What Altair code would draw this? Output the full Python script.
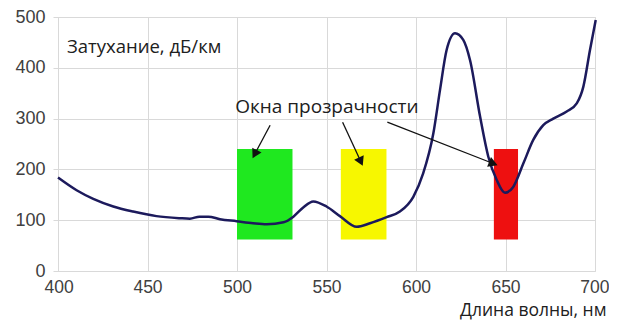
import math
import altair as alt
import pandas as pd

# ---- data ----
wavelength = [400, 410.4, 419.7, 430.9, 442, 455, 468, 473.7, 479, 484, 490.5, 499.8, 509,
              516.6, 526, 531.5, 537, 542.6, 550, 557.5, 566.9, 574.3, 583.6, 591, 598.5,
              604, 609.7, 613.4, 617.1, 621.8, 626.4, 630.2, 635.8, 640.4, 645.1, 649.7,
              654.4, 660, 665.5, 671.1, 676.7, 684.2, 689.8, 693.5, 697.2, 700.4]
attenuation = [184, 159, 142, 127, 117, 108, 104, 103, 107, 107, 102, 98, 94,
               92, 96, 107, 125, 137, 127, 108, 87, 94, 106, 117, 146,
               192, 271, 356, 435, 468, 455, 415, 304, 225, 179, 154,
               166, 212, 258, 287, 300, 314, 330, 363, 435, 494]

win_x1 = [500, 558, 643.5]
win_x2 = [531, 583.5, 657]
win_y1 = [62, 62, 62]
win_y2 = [240, 240, 240]
win_color = ["#1fe81f", "#f7f700", "#ee1010"]

arrow_x1 = [518.5, 559, 584]
arrow_y1 = [287, 293, 293]
arrow_x2 = [509, 570, 645]
arrow_y2 = [224, 209, 209]

y_title = "Затухание, дБ/км"
annot = "Окна прозрачности"
x_title = "Длина волны, нм"

# ---- geometry ----
W, H = 537, 254
XD = (400, 700)
YD = (0, 500)
px_x = W / (XD[1] - XD[0])
px_y = H / (YD[1] - YD[0])

curve = pd.DataFrame({"wl": wavelength, "att": attenuation})
wins = pd.DataFrame({"x1": win_x1, "x2": win_x2, "y1": win_y1, "y2": win_y2, "c": win_color})

shafts = []
heads = []
for i, (a, b, c, d) in enumerate(zip(arrow_x1, arrow_y1, arrow_x2, arrow_y2)):
    dxp = (c - a) * px_x
    dyp = -(d - b) * px_y
    L = math.hypot(dxp, dyp)
    ux, uy = dxp / L, dyp / L
    ang = math.degrees(math.atan2(ux, -uy)) % 360
    back = 5.0
    hx = c - ux * back / px_x
    hy = d + uy * back / px_y
    shafts.append({"id": i, "x": a, "y": b, "o": 0})
    shafts.append({"id": i, "x": hx, "y": hy, "o": 1})
    heads.append({"x": hx, "y": hy, "ang": ang})
shafts = pd.DataFrame(shafts)
heads = pd.DataFrame(heads)

xs = alt.Scale(domain=list(XD), nice=False, zero=False)
ys = alt.Scale(domain=list(YD), nice=False)

FONT = "Liberation Sans"
TFONT = "Open Sans"
TXT = "#404040"
GRID = "#d9d9d9"

xaxis = alt.Axis(values=[400, 450, 500, 550, 600, 650, 700], grid=True, gridColor=GRID,
                 domain=False, ticks=False, labelFontSize=17.5, labelColor=TXT, labelFont=FONT,
                 labelPadding=7, labelFlush=True, labelFlushOffset=14, title=x_title,
                 titleFont=TFONT, titleFontSize=17.5, titleFontWeight="normal",
                 titleColor="#202020", titleAnchor="end", titleAlign="right", titleX=W + 11,
                 titleY=44.5, titleBaseline="alphabetic")
yaxis = alt.Axis(values=[0, 100, 200, 300, 400, 500], grid=True, gridColor=GRID,
                 domain=True, domainColor=GRID, ticks=True, tickColor=GRID, tickSize=5,
                 labelFontSize=18, labelColor=TXT, labelFont=FONT, labelPadding=8, title=None)

rects = alt.Chart(wins).mark_rect().encode(
    x=alt.X("x1:Q", scale=xs, axis=xaxis),
    x2="x2:Q",
    y=alt.Y("y1:Q", scale=ys, axis=yaxis),
    y2="y2:Q",
    color=alt.Color("c:N", scale=None),
)

line = alt.Chart(curve).mark_line(color="#1c1a5c", strokeWidth=2.5, interpolate="monotone").encode(
    x=alt.X("wl:Q", scale=xs), y=alt.Y("att:Q", scale=ys)
)

arrow_lines = alt.Chart(shafts).mark_line(color="#111111", strokeWidth=1.3).encode(
    x=alt.X("x:Q", scale=xs), y=alt.Y("y:Q", scale=ys), detail="id:N", order="o:Q"
)
arrow_heads = alt.Chart(heads).mark_point(shape="triangle", filled=True, color="#111111",
                                          size=110, opacity=1).encode(
    x=alt.X("x:Q", scale=xs), y=alt.Y("y:Q", scale=ys), angle=alt.Angle("ang:Q", scale=None)
)

labels = pd.DataFrame({"x": [405, 499], "y": [429, 311], "t": [y_title, annot],
                       "fs": [18.5, 19]})
texts = alt.Chart(labels).mark_text(align="left", baseline="alphabetic", font=TFONT,
                                    color="#202020").encode(
    x=alt.X("x:Q", scale=xs), y=alt.Y("y:Q", scale=ys), text="t:N",
    size=alt.Size("fs:Q", scale=None, legend=None)
)

chart = alt.layer(rects, line, arrow_lines, arrow_heads, texts).properties(
    width=W, height=H,
    autosize=alt.AutoSizeParams(type="none"),
    padding={"left": 50, "top": 9, "right": 14, "bottom": 49},
).configure_view(stroke=None).configure(background="white")

chart.save("out.html", embed_options={"renderer": "svg", "actions": False})
